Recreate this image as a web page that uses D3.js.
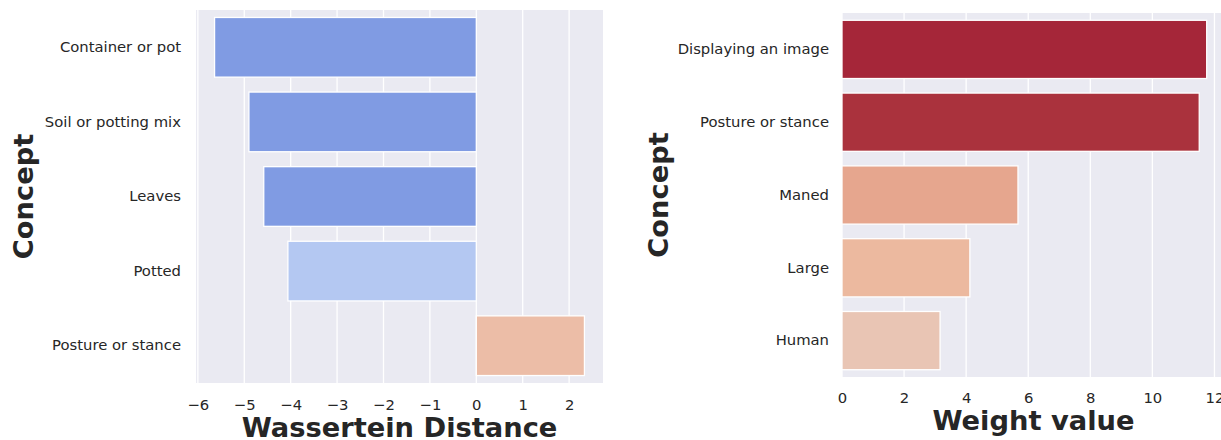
<!DOCTYPE html>
<html><head><meta charset="utf-8">
<script src="https://cdn.jsdelivr.net/npm/d3@7"></script>
<style>body{margin:0;background:#fff}svg{display:block}text{font-family:"DejaVu Sans";fill:#262626}</style>
</head><body>
<svg id="c" width="1221" height="440"></svg>
<script>
// Left panel data
const leftCategories = ["Container or pot","Soil or potting mix","Leaves","Potted","Posture or stance"];
const leftValues = [-5.64, -4.90, -4.58, -4.06, 2.33];
const leftColors = ["#809be3","#809be3","#809be3","#b4c8f2","#ecbda7"];
const leftTicks = [-6,-5,-4,-3,-2,-1,0,1,2];
// Right panel data
const rightCategories = ["Displaying an image","Posture or stance","Maned","Large","Human"];
const rightValues = [11.75, 11.51, 5.67, 4.12, 3.16];
const rightColors = ["#a52639","#aa323d","#e6a68e","#ecb99f","#e9c5b4"];
const rightTicks = [0,2,4,6,8,10,12];

const svg = d3.select("#c");

function panel(cfg){
  const g = svg.append("g");
  const x = d3.scaleLinear().domain(cfg.xdom).range([cfg.x0, cfg.x1]);
  const y = d3.scaleBand().domain(cfg.cats).range([cfg.y0, cfg.y1]).paddingInner(0.2).paddingOuter(0.1);
  g.append("rect").attr("x",cfg.x0).attr("y",cfg.y0).attr("width",cfg.x1-cfg.x0).attr("height",cfg.y1-cfg.y0).attr("fill","#eaeaf2");
  // grid
  g.selectAll(".grid").data(cfg.ticks).join("line")
    .attr("x1",d=>x(d)).attr("x2",d=>x(d)).attr("y1",cfg.y0).attr("y2",cfg.y1)
    .attr("stroke","#fff").attr("stroke-width",1.3);
  // bars
  g.selectAll(".bar").data(cfg.vals).join("rect")
    .attr("x",d=>x(Math.min(0,d))).attr("width",d=>Math.abs(x(d)-x(0)))
    .attr("y",(d,i)=>y(cfg.cats[i])).attr("height",y.bandwidth())
    .attr("fill",(d,i)=>cfg.colors[i]).attr("stroke","#fff").attr("stroke-width",1.3);
  // x axis
  const xa = d3.axisBottom(x).tickValues(cfg.ticks).tickSize(0).tickPadding(0).tickFormat(d=>d<0?"\u2212"+Math.abs(d):d);
  const gx = g.append("g").attr("transform",`translate(0,${cfg.y1})`).call(xa);
  gx.select(".domain").remove();
  gx.selectAll("text").attr("font-size",14.8).attr("dy",0).attr("y",cfg.xtickY).attr("fill","#262626");
  // y axis
  const ya = d3.axisLeft(y).tickSize(0).tickPadding(0);
  const gy = g.append("g").attr("transform",`translate(${cfg.x0-cfg.ypad},0)`).call(ya);
  gy.select(".domain").remove();
  gy.selectAll("text").attr("font-size",14.8).attr("fill","#262626");
  // titles
  g.append("text").attr("x",(cfg.x0+cfg.x1)/2).attr("y",cfg.xtY).attr("text-anchor","middle")
    .attr("font-size",27.3).attr("font-weight","bold").text(cfg.xtitle);
  g.append("text").attr("transform",`translate(${cfg.ytX},${(cfg.y0+cfg.y1)/2}) rotate(-90)`).attr("text-anchor","middle")
    .attr("font-size",27.3).attr("font-weight","bold").text("Concept");
}

panel({cats:leftCategories, vals:leftValues, colors:leftColors, ticks:leftTicks,
  xdom:[-6.04,2.73], x0:196, x1:603, y0:10, y1:383, xtitle:"Wassertein Distance", xtY:437, ytX:33, ypad:15, xtickY:26.5});
panel({cats:rightCategories, vals:rightValues, colors:rightColors, ticks:rightTicks,
  xdom:[0,12.34], x0:842, x1:1225, y0:13, y1:377, xtitle:"Weight value", xtY:429.5, ytX:668, ypad:13, xtickY:25.5});
</script>
</body></html>
